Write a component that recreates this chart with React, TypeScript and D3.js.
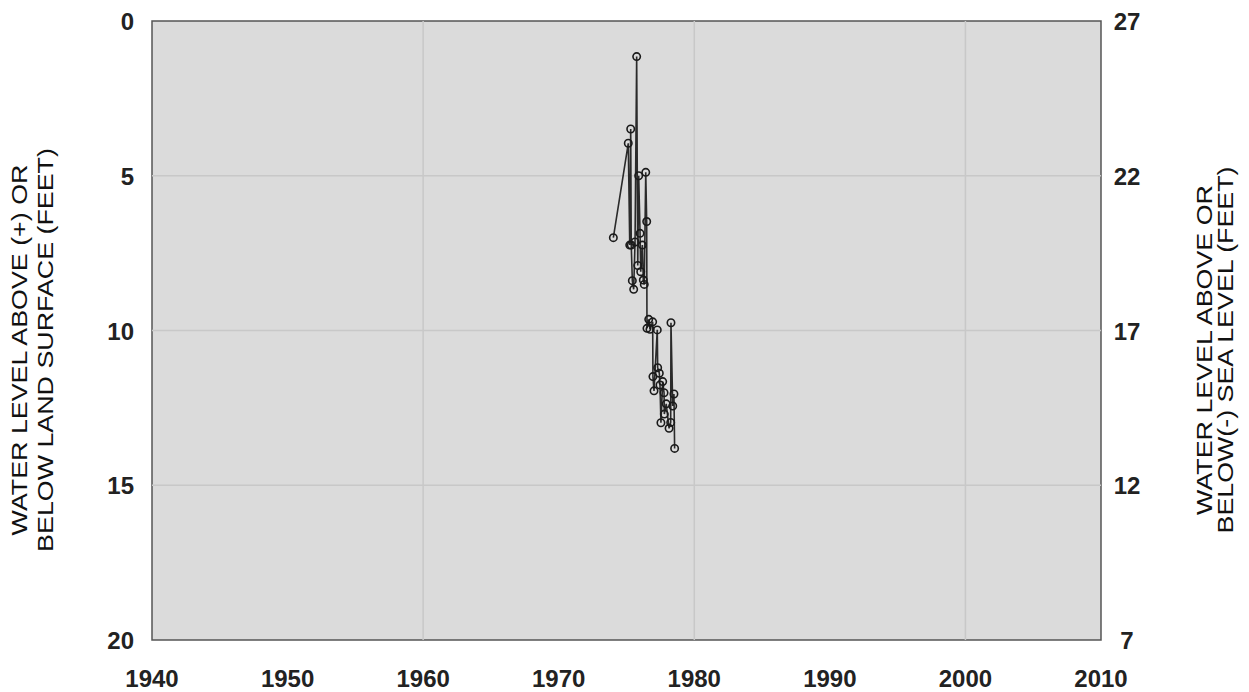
import React from "react";
import * as d3 from "d3";

const years: number[] = [
  1974.03, 1975.13, 1975.24, 1975.31, 1975.35, 1975.43, 1975.53, 1975.63, 1975.75, 1975.83,
  1975.9, 1976.0, 1976.05, 1976.17, 1976.24, 1976.31, 1976.42, 1976.49, 1976.51, 1976.64,
  1976.73, 1976.93, 1976.95, 1977.03, 1977.27, 1977.3, 1977.42, 1977.47, 1977.54, 1977.67,
  1977.77, 1977.79, 1977.93, 1978.14, 1978.26, 1978.28, 1978.41, 1978.5, 1978.55,
];
const depths: number[] = [
  7.0, 3.95, 7.24, 3.49, 7.24, 8.39, 8.67, 7.14, 1.15, 7.9,
  5.0, 6.86, 8.1, 7.24, 8.37, 8.51, 4.89, 6.48, 9.93, 9.64,
  9.96, 9.72, 11.49, 11.95, 9.98, 11.2, 11.38, 11.76, 12.98, 11.65,
  12.01, 12.7, 12.37, 13.16, 12.97, 9.75, 12.44, 12.05, 13.81,
];
const xTicks: number[] = [1940, 1950, 1960, 1970, 1980, 1990, 2000, 2010];
const leftTicks: number[] = [0, 5, 10, 15, 20];
const rightTicks: number[] = [27, 22, 17, 12, 7];
const leftTitle: string[] = ["WATER LEVEL ABOVE (+) OR", "BELOW LAND SURFACE (FEET)"];
const rightTitle: string[] = ["WATER LEVEL ABOVE OR", "BELOW(-) SEA LEVEL (FEET)"];
const gridX: number[] = [1960, 1980, 2000];
const gridY: number[] = [5, 10, 15];

export default function App() {
  const W = 1249, H = 692;
  const L = 152, R = 1101, T = 21, B = 640;
  const x = d3.scaleLinear().domain([1940, 2010]).range([L, R]);
  const y = d3.scaleLinear().domain([0, 20]).range([T, B]);
  const yR = d3.scaleLinear().domain([27, 7]).range([T, B]);
  const pts = years.map((yr, i) => [yr, depths[i]] as [number, number]);
  const line = d3.line<[number, number]>().x(d => x(d[0])).y(d => y(d[1]));
  const font = "'Liberation Sans', Arial, Helvetica, sans-serif";
  return (
    <svg width={W} height={H} style={{ position: "absolute", left: 0, top: 0, background: "#fff" }}>
      <rect x={L} y={T} width={R - L} height={B - T} fill="#dbdbdb" stroke="#555" strokeWidth={1.5} />
      {gridX.map(g => (
        <line key={"gx" + g} x1={x(g)} x2={x(g)} y1={T} y2={B} stroke="#c8c8c8" strokeWidth={1.5} />
      ))}
      {gridY.map(g => (
        <line key={"gy" + g} x1={L} x2={R} y1={y(g)} y2={y(g)} stroke="#c8c8c8" strokeWidth={1.5} />
      ))}
      <path d={line(pts) || ""} fill="none" stroke="#2a2a2a" strokeWidth={1.6} />
      {pts.map((p, i) => (
        <circle key={i} cx={x(p[0])} cy={y(p[1])} r={3.7} fill="none" stroke="#1a1a1a" strokeWidth={1.6} />
      ))}
      {xTicks.map(t => (
        <text key={"xt" + t} x={x(t)} y={687} textAnchor="middle" fontFamily={font} fontWeight="bold" fontSize={24} fill="#222">{t}</text>
      ))}
      {leftTicks.map(t => (
        <text key={"lt" + t} x={134} y={y(t) + 9} textAnchor="end" fontFamily={font} fontWeight="bold" fontSize={24} fill="#222">{t}</text>
      ))}
      {rightTicks.map(t => (
        <text key={"rt" + t} x={1127} y={yR(t) + 9} textAnchor="middle" fontFamily={font} fontWeight="bold" fontSize={24} fill="#222">{t}</text>
      ))}
      {leftTitle.map((s, i) => (
        <text key={"ltt" + i} transform={`translate(${27 + i * 26},${350}) rotate(-90) scale(1.22,1)`} textAnchor="middle" fontFamily={font} fontSize={22} fill="#111">{s}</text>
      ))}
      {rightTitle.map((s, i) => (
        <text key={"rtt" + i} transform={`translate(${1212 + i * 21},${350}) rotate(-90) scale(1.22,1)`} textAnchor="middle" fontFamily={font} fontSize={22} fill="#111">{s}</text>
      ))}
    </svg>
  );
}
